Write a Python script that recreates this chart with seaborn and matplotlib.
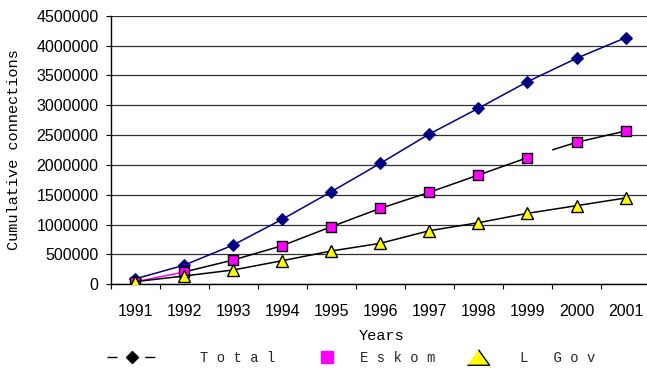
import numpy as np
import pandas as pd
import matplotlib
matplotlib.use("Agg")
import matplotlib.pyplot as plt
from matplotlib.lines import Line2D
import seaborn as sns

# Cumulative household electrification connections
years = [1991, 1992, 1993, 1994, 1995, 1996, 1997, 1998, 1999, 2000, 2001]
total = [90000, 320000, 658000, 1089000, 1551000, 2027000, 2518000, 2949000, 3394000, 3786000, 4131000]
eskom = [40000, 206000, 407000, 647000, 965000, 1273000, 1541000, 1831000, 2121000, 2379000, 2568000]
lgov = [44000, 139000, 240000, 395000, 558000, 687000, 898000, 1032000, 1189000, 1317000, 1446000]

series_names = ["Total", "Eskom", "L Gov"]
legend_texts = ["T o t a l", "E s k o m", "L   G o v"]
y_ticks = list(range(0, 4500001, 500000))

sns.set_theme(style="white")
plt.rcParams["font.family"] = ["Liberation Sans", "DejaVu Sans"]
MONO = ["Liberation Mono", "DejaVu Sans Mono"]

fig = plt.figure(figsize=(6.47, 3.70), dpi=100)
ax = fig.add_axes([0.1708, 0.2316, 0.834, 0.726])

df = pd.DataFrame({"year": years, "Total": total, "Eskom": eskom, "L Gov": lgov})

# Total
sns.lineplot(data=df, x="year", y="Total", ax=ax, color="#000080", lw=1.1,
             marker="D", markersize=6, markerfacecolor="#000080",
             markeredgecolor="#000080", zorder=3)

# Eskom: first segment in magenta, then black, with a break before 2000
sns.lineplot(data=df.iloc[0:2], x="year", y="Eskom", ax=ax, color="#ff00ff", lw=1.1, zorder=3)
sns.lineplot(data=df.iloc[1:9], x="year", y="Eskom", ax=ax, color="black", lw=1.1, zorder=3)
sns.lineplot(data=df.iloc[8:10], x="year", y="Eskom", ax=ax, color="black", lw=1.1,
             linestyle=(40, (40, 17)), zorder=3)
sns.lineplot(data=df.iloc[9:11], x="year", y="Eskom", ax=ax, color="black", lw=1.1, zorder=3)
sns.scatterplot(data=df, x="year", y="Eskom", ax=ax, marker="s", s=50,
                color="#ff00ff", edgecolor="black", linewidth=1, zorder=4)

# Local government
sns.lineplot(data=df, x="year", y="L Gov", ax=ax, color="black", lw=1.1,
             marker="^", markersize=8, markerfacecolor="#ffff00",
             markeredgecolor="black", markeredgewidth=1, zorder=5)

ax.set_xlim(years[0] - 0.5, years[-1] + 0.5)
ax.set_ylim(0, 4500000)
ax.set_yticks(y_ticks)
ax.set_yticklabels([str(v) for v in y_ticks], fontsize=11.5)
ax.set_xticks(years)
ax.set_xticklabels([str(y) for y in years], fontsize=11.5)
ax.set_xticks(np.arange(years[0] - 0.5, years[-1] + 1.0, 1.0), minor=True)
ax.tick_params(axis="x", which="major", length=0, pad=14, colors="black")
ax.tick_params(axis="x", which="minor", length=3.5, width=0.8, color="black", direction="out", bottom=True)
ax.tick_params(axis="y", which="major", length=3.5, width=0.8, color="black", direction="out",
               left=True, pad=5, colors="black")

ax.grid(axis="y", color="#303030", lw=0.9)
ax.set_axisbelow(True)
for side in ["top", "right"]:
    ax.spines[side].set_visible(False)
for side in ["left", "bottom"]:
    ax.spines[side].set_color("black")
    ax.spines[side].set_linewidth(1.0)

ax.set_xlabel("Years", family=MONO, fontsize=11, color="black")
ax.set_ylabel("Cumulative connections", family=MONO, fontsize=11, color="black")
ax.xaxis.set_label_coords(0.503, -0.165)
ax.yaxis.set_label_coords(-0.166, 0.5)

# Legend: one entry per series, laid out along the bottom
W = 647.0
leg_y = 0.0324
wide_triangle = [(-1.0, -0.7), (1.0, -0.7), (0.0, 0.7)]
entries = [
    (Line2D([], [], color="black", lw=1.0, linestyle=(0, (7.2, 20)), marker="D", markersize=6,
            markerfacecolor="black", markeredgecolor="black"),
     legend_texts[0], 107, 3.6, 3.1),
    (Line2D([], [], lw=0, marker="s", markersize=8, markerfacecolor="#ff00ff",
            markeredgecolor="#ff00ff"),
     legend_texts[1], 313.6, 2.0, 1.34),
    (Line2D([], [], lw=0, marker=wide_triangle, markersize=16, markerfacecolor="#ffff00",
            markeredgecolor="black", markeredgewidth=1),
     legend_texts[2], 464.1, 2.0, 2.0),
]
for handle, text, x0, hlen, hpad in entries:
    fig.legend([handle], [text], loc="center left", bbox_to_anchor=(x0 / W, leg_y),
               frameon=False, prop={"family": MONO, "size": 10}, handlelength=hlen,
               handletextpad=hpad, borderpad=0, borderaxespad=0)

fig.savefig("out.png", dpi=100)
